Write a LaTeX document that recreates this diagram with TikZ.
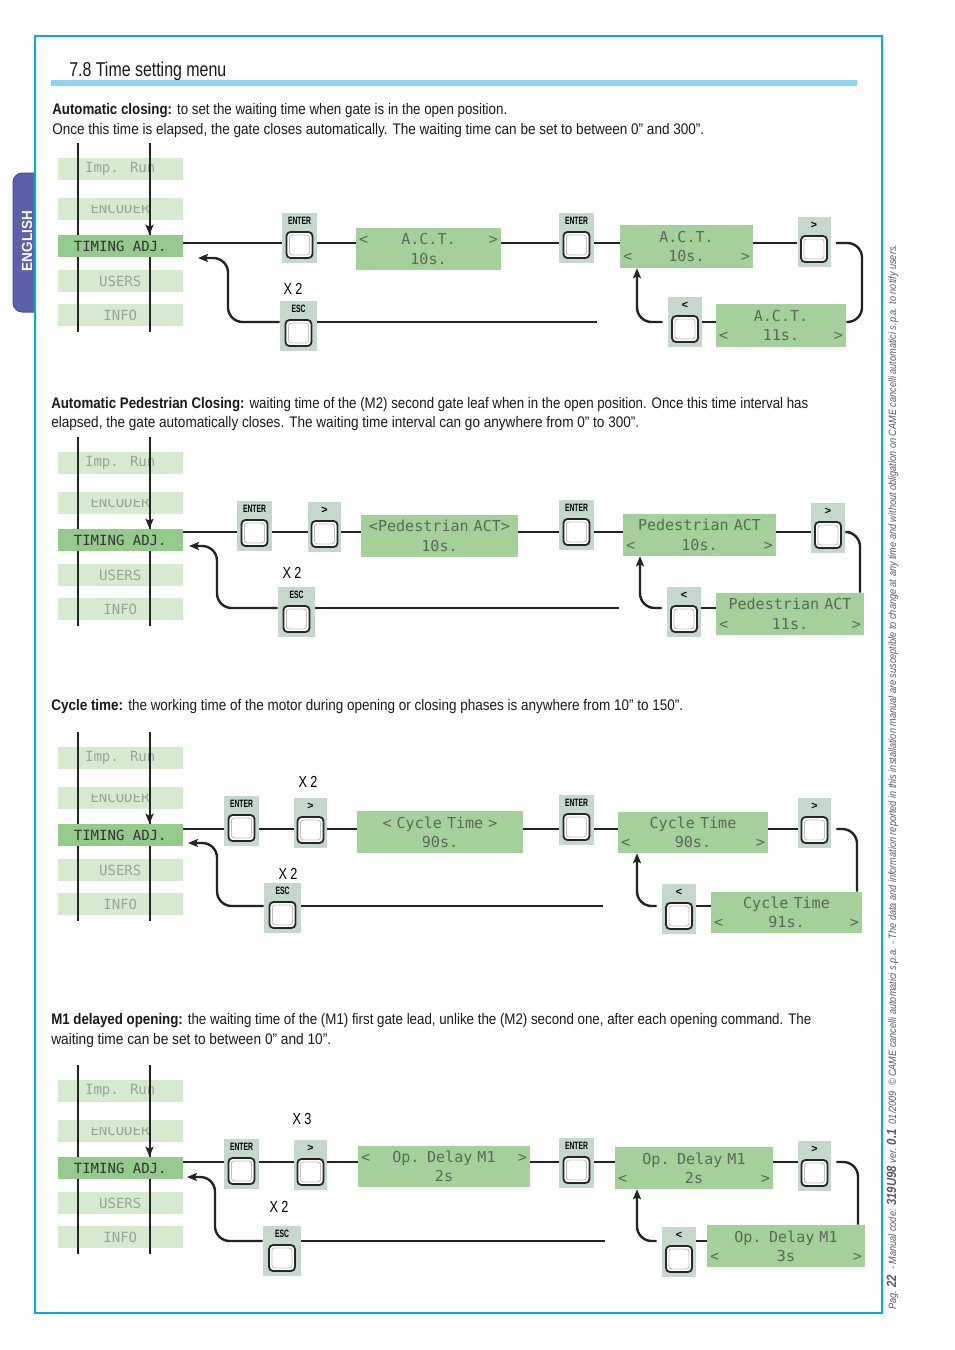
\documentclass[tikz,border=0pt]{standalone}
\usepackage{fontspec}
\usepackage{graphicx}
\setmainfont{Liberation Sans}
\newfontfamily\lcdfam{DejaVu Sans Mono}
\usetikzlibrary{calc,arrows.meta}
\newlength\ux \setlength\ux{0.75pt}
\newlength\lcdtw
\definecolor{frameblue}{RGB}{0,170,236}
\definecolor{barblue}{RGB}{140,214,244}
\definecolor{tabpurple}{RGB}{92,96,170}
\definecolor{lcdgreen}{RGB}{164,208,154}
\definecolor{timgreen}{RGB}{148,202,140}
\definecolor{lightgreen}{RGB}{213,234,207}
\definecolor{btngray}{RGB}{197,216,204}
\definecolor{lcdtext}{RGB}{90,104,90}
\definecolor{fadetext}{RGB}{150,164,150}
\definecolor{inkgray}{RGB}{35,35,35}
\definecolor{footgray}{RGB}{90,90,90}
\newcommand\fitw[2]{\resizebox{#1\ux}{\height}{#2}}
\newcommand\lcdf{\lcdfam\fontsize{11.3}{14.5}\selectfont}
\newcommand\menuf{\lcdfam\fontsize{10.5}{12}\selectfont}
\newcommand\bodyf{\fontsize{11.5}{14}\selectfont}
\newcommand\edgerow[1]{\makebox[\linewidth]{<\hfill#1\hfill>}}
\newcommand\entl{\fitw{23}{ENTER}}
\newcommand\escl{\fitw{14}{ESC}}
\newcommand\xl[1]{\fitw{19}{#1}}
\tikzset{
 conn/.style={draw=inkgray, line width=1.8pt},
 curve/.style={conn, rounded corners=11pt},
 vline/.style={draw=inkgray, line width=1.5pt},
 lbox/.style={fill=lightgreen, minimum width=94.1pt, minimum height=16.5pt, inner sep=0pt, font=\menuf, text=fadetext},
 tbox/.style={lbox, fill=timgreen, text=black!80},
 lcdbox/.style={fill=lcdgreen, inner xsep=2.25pt, inner ysep=0pt, align=center, font=\lcdf, text=lcdtext},
 btnbg/.style={fill=btngray, inner sep=0pt},
 btnlab/.style={inner sep=0pt, font=\bfseries\fontsize{8}{8}\selectfont, text=black},
 btnkey/.style={draw=black!85, fill=white, line width=1.35pt, rounded corners=3pt, minimum width=19.5pt, minimum height=19.5pt, inner sep=0pt},
 keyin/.style={draw=black!25, line width=0.7pt, rounded corners=2pt, minimum width=15pt, minimum height=15pt, inner sep=0pt},
 xlab/.style={inner sep=0pt, font=\fontsize{12}{12}\selectfont, text=black},
 body/.style={anchor=base west, inner sep=0pt, font=\bodyf, text=black!90},
}
\newcommand\mybtn[5]{%
 \setlength\lcdtw{#5\ux}%
 \node[btnbg, minimum width=\lcdtw, minimum height=37.5pt] (#1) at (#2,#3+25) {};
 \node[btnlab] (#1-l) at (#2,#3+8) {#4};
 \node[btnkey] (#1-k) at (#2,#3+32) {};
 \node[keyin] (#1-i) at (#2,#3+32) {};
}
\newlength\lcdh
\newcommand\mylcd[6]{%
 \setlength\lcdh{#5\ux}%
 \setlength\lcdtw{#4\ux}\addtolength\lcdtw{-4.5pt}%
 \node[lcdbox, minimum height=\lcdh, text width=\lcdtw] (#1) at (#2,#3) {#6};
}
\newcommand\mymenu[2]{%
 \node[lbox] (#1-imp) at (120.25,#2+11) {Imp. Run};
 \node[lbox] (#1-enc) at (120.25,#2+51) {};
 \begin{scope}
  \clip (57.5,#2+47.5) rectangle (183,#2+62);
  \node[inner sep=0pt, font=\menuf, text=fadetext] (#1-enct) at (120,#2+50.5) {ENCODER};
 \end{scope}
 \node[lbox] (#1-usr) at (120.25,#2+123) {USERS};
 \node[lbox] (#1-inf) at (120.25,#2+157) {INFO};
 \coordinate (#1-vl) at (77.5,#2-15);
 \coordinate (#1-vr) at (149.5,#2-15);
 \draw[vline] (#1-vl) -- ++(0,189);
 \draw[vline] (#1-vr) -- ++(0,189);
 \node[tbox] (#1-tim) at (120.25,#2+88) {TIMING ADJ.};
 \draw[vline,->] (#1-vr) -- (#1-vr |- #1-tim.north);
}
\begin{document}
\begin{tikzpicture}[x=0.75pt,y=-0.75pt,>={Stealth[length=7.5pt,width=6pt,inset=1.5pt]}]
\useasboundingbox (0,0) rectangle (954,1350);
\fill[white] (0,0) rectangle (954,1350);
% frame, tab, header
\fill[tabpurple, draw=tabpurple!80!black, line width=0.75pt, rounded corners=7pt] (13,173) rectangle (48,312);
\fill[white] (36,165) rectangle (55,320);
\draw[frameblue, line width=1.2pt] (35,36) rectangle (882,1313);
\node[rotate=90, inner sep=0pt, text=white, font=\bfseries\fontsize{11}{11}\selectfont] (eng) at (27,241) {\fitw{60}{ENGLISH}};
\node[anchor=base west, inner sep=0pt, text=black!90] (title) at (69,76) {\fitw{157}{\fontsize{15}{18}\selectfont 7.8 Time setting menu}};
\fill[barblue] (51,80) rectangle (857,86);
\node[rotate=90, anchor=base west, inner sep=0pt, text=footgray] (foot) at (896,1310) {\fitw{1065}{\fontsize{8}{8}\selectfont\itshape Pag. \textbf{\fontsize{10}{10}\selectfont 22}\ \ - Manual code: \textbf{\fontsize{10}{10}\selectfont 319U98} ver. \textbf{\fontsize{10}{10}\selectfont 0.1}\ \ 01/2009\ \ © CAME cancelli automatici s.p.a. - The data and information reported in this installation manual are susceptible to change at any time and without obligation on CAME cancelli automatici s.p.a. to notify users.}};
% body texts
\node[body] (t1) at (52,114) {\fitw{455}{\textbf{Automatic closing:} to set the waiting time when gate is in the open position.}};
\node[body] (t2) at (52,134) {\fitw{652}{Once this time is elapsed, the gate closes automatically. The waiting time can be set to between 0” and 300”.}};
\node[body] (t3) at (51,408) {\fitw{757}{\textbf{Automatic Pedestrian Closing:} waiting time of the (M2) second gate leaf when in the open position. Once this time interval has}};
\node[body] (t4) at (51,427) {\fitw{588}{elapsed, the gate automatically closes. The waiting time interval can go anywhere from 0” to 300”.}};
\node[body] (t5) at (51,710) {\fitw{632}{\textbf{Cycle time:} the working time of the motor during opening or closing phases is anywhere from 10” to 150”.}};
\node[body] (t6) at (51,1024) {\fitw{760}{\textbf{M1 delayed opening:} the waiting time of the (M1) first gate lead, unlike the (M2) second one, after each opening command. The}};
\node[body] (t7) at (51,1044) {\fitw{280}{waiting time can be set to between 0” and 10”.}};

% ===== Section 1 =====
\mymenu{a}{158}
\coordinate (a-La) at (0,243); \coordinate (a-Lb) at (0,322);
\coordinate (a-rx) at (862,0); \coordinate (a-ax) at (637,0); \coordinate (a-vx) at (228,0);
\coordinate (a-end) at (597,322); \coordinate (a-tip) at (198,258);
\mybtn{a-ent}{299.5}{213}{\entl}{35}
\mylcd{a-lcd1}{428.5}{249}{145}{42}{\edgerow{A.C.T.}\\10s.}
\mybtn{a-ent2}{576.5}{213}{\entl}{35}
\mylcd{a-lcd2}{686.5}{246.5}{133}{43}{A.C.T.\\\edgerow{10s.}}
\mybtn{a-nx}{814}{217}{>}{33}
\mybtn{a-pv}{685}{297}{<}{34}
\mylcd{a-lcd3}{781}{325.5}{130}{43}{A.C.T.\\\edgerow{11s.}}
\node[xlab] (a-x2) at (293,289) {\xl{X 2}};
\mybtn{a-esc}{298.5}{301}{\escl}{37}
\draw[conn] (a-tim.east |- a-La) -- (a-ent.west |- a-La);
\draw[conn] (a-ent.east |- a-La) -- (a-lcd1.west |- a-La);
\draw[conn] (a-lcd1.east |- a-La) -- (a-ent2.west |- a-La);
\draw[conn] (a-ent2.east |- a-La) -- (a-lcd2.west |- a-La);
\draw[conn] (a-lcd2.east |- a-La) -- (a-nx.west |- a-La);
\draw[curve] ($(a-nx.east |- a-La)+(5,0)$) -- (a-rx |- a-La) -- (a-rx |- a-Lb) -- (a-lcd3.east |- a-Lb);
\draw[conn] (a-lcd3.west |- a-Lb) -- (a-pv.east |- a-Lb);
\draw[curve,->] ($(a-pv.west |- a-Lb)+(-5,0)$) -- (a-ax |- a-Lb) -- (a-lcd2.south -| a-ax);
\draw[conn] (a-esc.east |- a-Lb) -- (a-end);
\draw[curve,->] (a-esc.west |- a-Lb) -- (a-vx |- a-Lb) -- (a-vx |- a-tip) -- (a-tip);

% ===== Section 2 =====
\mymenu{b}{452}
\coordinate (b-La) at (0,532); \coordinate (b-Lb) at (0,608);
\coordinate (b-rx) at (860,0); \coordinate (b-ax) at (640,0); \coordinate (b-vx) at (217,0);
\coordinate (b-end) at (619,608); \coordinate (b-tip) at (189,546);
\mybtn{b-ent}{254.5}{501}{\entl}{35}
\mybtn{b-nx1}{324.5}{502}{>}{33}
\mylcd{b-lcd1}{439.5}{536}{157}{42}{<Pedestrian ACT>\\10s.}
\mybtn{b-ent2}{576.5}{500}{\entl}{35}
\mylcd{b-lcd2}{699.5}{535}{153}{42}{Pedestrian ACT\\\edgerow{10s.}}
\mybtn{b-nx}{828}{503}{>}{34}
\mybtn{b-pv}{684}{587}{<}{34}
\mylcd{b-lcd3}{790}{614}{148}{42}{Pedestrian ACT\\\edgerow{11s.}}
\node[xlab] (b-x2) at (292,573) {\xl{X 2}};
\mybtn{b-esc}{296.5}{587}{\escl}{37}
\draw[conn] (b-tim.east |- b-La) -- (b-ent.west |- b-La);
\draw[conn] (b-ent.east |- b-La) -- (b-nx1.west |- b-La);
\draw[conn] (b-nx1.east |- b-La) -- (b-lcd1.west |- b-La);
\draw[conn] (b-lcd1.east |- b-La) -- (b-ent2.west |- b-La);
\draw[conn] (b-ent2.east |- b-La) -- (b-lcd2.west |- b-La);
\draw[conn] (b-lcd2.east |- b-La) -- (b-nx.west |- b-La);
\draw[curve] ($(b-nx.east |- b-La)+(5,0)$) -- (b-rx |- b-La) -- (b-lcd3.north -| b-rx);
\draw[conn] (b-lcd3.west |- b-Lb) -- (b-pv.east |- b-Lb);
\draw[curve,->] ($(b-pv.west |- b-Lb)+(-5,0)$) -- (b-ax |- b-Lb) -- (b-lcd2.south -| b-ax);
\draw[conn] (b-esc.east |- b-Lb) -- (b-end);
\draw[curve,->] (b-esc.west |- b-Lb) -- (b-vx |- b-Lb) -- (b-vx |- b-tip) -- (b-tip);

% ===== Section 3 =====
\mymenu{c}{747}
\coordinate (c-La) at (0,829); \coordinate (c-Lb) at (0,906);
\coordinate (c-rx) at (857,0); \coordinate (c-ax) at (637,0); \coordinate (c-vx) at (217,0);
\coordinate (c-end) at (603,906); \coordinate (c-tip) at (188,843);
\mybtn{c-ent}{241.5}{796}{\entl}{35}
\node[xlab] (c-x2a) at (308,782) {\xl{X 2}};
\mybtn{c-nx1}{310.5}{798}{>}{33}
\mylcd{c-lcd1}{440}{832}{166}{42}{< Cycle Time >\\90s.}
\mybtn{c-ent2}{576.5}{795}{\entl}{35}
\mylcd{c-lcd2}{693}{832.5}{150}{41}{Cycle Time\\\edgerow{90s.}}
\mybtn{c-nx}{814.5}{798}{>}{33}
\mybtn{c-pv}{679}{884}{<}{34}
\mylcd{c-lcd3}{786.5}{912.5}{151}{41}{Cycle Time\\\edgerow{91s.}}
\node[xlab] (c-x2b) at (288,874) {\xl{X 2}};
\mybtn{c-esc}{282.5}{883}{\escl}{37}
\draw[conn] (c-tim.east |- c-La) -- (c-ent.west |- c-La);
\draw[conn] (c-ent.east |- c-La) -- (c-nx1.west |- c-La);
\draw[conn] (c-nx1.east |- c-La) -- (c-lcd1.west |- c-La);
\draw[conn] (c-lcd1.east |- c-La) -- (c-ent2.west |- c-La);
\draw[conn] (c-ent2.east |- c-La) -- (c-lcd2.west |- c-La);
\draw[conn] (c-lcd2.east |- c-La) -- (c-nx.west |- c-La);
\draw[curve] ($(c-nx.east |- c-La)+(5,0)$) -- (c-rx |- c-La) -- (c-lcd3.north -| c-rx);
\draw[conn] (c-lcd3.west |- c-Lb) -- (c-pv.east |- c-Lb);
\draw[curve,->] ($(c-pv.west |- c-Lb)+(-5,0)$) -- (c-ax |- c-Lb) -- (c-lcd2.south -| c-ax);
\draw[conn] (c-esc.east |- c-Lb) -- (c-end);
\draw[curve,->] (c-esc.west |- c-Lb) -- (c-vx |- c-Lb) -- (c-vx |- c-tip) -- (c-tip);

% ===== Section 4 =====
\mymenu{d}{1080}
\coordinate (d-La) at (0,1162); \coordinate (d-Lb) at (0,1241);
\coordinate (d-rx) at (858,0); \coordinate (d-ax) at (637,0); \coordinate (d-vx) at (215,0);
\coordinate (d-end) at (605,1241); \coordinate (d-tip) at (187,1177);
\mybtn{d-ent}{241.5}{1139}{\entl}{35}
\node[xlab] (d-x3) at (302,1119) {\xl{X 3}};
\mybtn{d-nx1}{310.5}{1140}{>}{33}
\mylcd{d-lcd1}{444}{1166.5}{172}{41}{\edgerow{Op. Delay M1}\\2s}
\mybtn{d-ent2}{576.5}{1138}{\entl}{35}
\mylcd{d-lcd2}{694}{1168}{158}{42}{Op. Delay M1\\\edgerow{2s}}
\mybtn{d-nx}{814.5}{1141}{>}{33}
\mybtn{d-pv}{679}{1227}{<}{34}
\mylcd{d-lcd3}{786}{1246}{158}{42}{Op. Delay M1\\\edgerow{3s}}
\node[xlab] (d-x2) at (279,1207) {\xl{X 2}};
\mybtn{d-esc}{282}{1226}{\escl}{38}
\draw[conn] (d-tim.east |- d-La) -- (d-ent.west |- d-La);
\draw[conn] (d-ent.east |- d-La) -- (d-nx1.west |- d-La);
\draw[conn] (d-nx1.east |- d-La) -- (d-lcd1.west |- d-La);
\draw[conn] (d-lcd1.east |- d-La) -- (d-ent2.west |- d-La);
\draw[conn] (d-ent2.east |- d-La) -- (d-lcd2.west |- d-La);
\draw[conn] (d-lcd2.east |- d-La) -- (d-nx.west |- d-La);
\draw[curve] ($(d-nx.east |- d-La)+(5,0)$) -- (d-rx |- d-La) -- (d-lcd3.north -| d-rx);
\draw[conn] (d-lcd3.west |- d-Lb) -- (d-pv.east |- d-Lb);
\draw[curve,->] ($(d-pv.west |- d-Lb)+(-5,0)$) -- (d-ax |- d-Lb) -- (d-lcd2.south -| d-ax);
\draw[conn] (d-esc.east |- d-Lb) -- (d-end);
\draw[curve,->] (d-esc.west |- d-Lb) -- (d-vx |- d-Lb) -- (d-vx |- d-tip) -- (d-tip);
\end{tikzpicture}
\end{document}
